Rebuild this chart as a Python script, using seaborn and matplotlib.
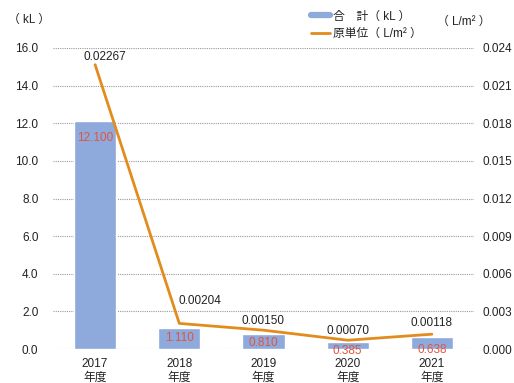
import numpy as np
import pandas as pd
import matplotlib
matplotlib.use("Agg")
import matplotlib.pyplot as plt
import seaborn as sns
from matplotlib.lines import Line2D

sns.set_theme(style="white")
plt.rcParams["font.family"] = ["Liberation Sans", "Noto Sans CJK JP", "DejaVu Sans"]

# Data
years = ["2017", "2018", "2019", "2020", "2021"]
total_kl = [12.100, 1.110, 0.810, 0.385, 0.638]
unit_l_m2 = [0.02267, 0.00204, 0.00150, 0.00070, 0.00118]
left_ticks = [0, 2, 4, 6, 8, 10, 12, 14, 16]
right_ticks = [0.000, 0.003, 0.006, 0.009, 0.012, 0.015, 0.018, 0.021, 0.024]

bar_color = "#8EA9DB"
line_color = "#E38C1E"
bar_label_color = "#E0553F"
text_color = "#222222"

df = pd.DataFrame({
    "year": [f"{y}\n年度" for y in years],
    "pos": np.arange(len(years)),
    "total": total_kl,
    "unit": unit_l_m2,
})

fig = plt.figure(figsize=(5.14, 3.83), dpi=100)
ax = fig.add_axes([53 / 514, 1 - 349 / 383, 421 / 514, 301 / 383])

sns.barplot(data=df, x="year", y="total", color=bar_color, width=0.5,
            saturation=1, ax=ax, zorder=2)
ax.set_xlim(-0.5, len(years) - 0.5)
ax.set_ylim(0, 16)
ax.set_yticks(left_ticks)
ax.set_yticklabels([f"{v:.1f}" for v in left_ticks], fontsize=8.5, color=text_color)
ax.tick_params(axis="x", labelsize=8.5, colors=text_color, length=0, pad=6.5)
for t in ax.get_xticklabels():
    t.set_linespacing(1.2)
ax.tick_params(axis="y", length=0, pad=10.5)
ax.set_xlabel("")
ax.set_ylabel("")
ax.yaxis.grid(True, linestyle=(0, (1, 1)), color="#9a9a9a", linewidth=0.8, zorder=0)
ax.set_axisbelow(True)
for s in ax.spines.values():
    s.set_visible(False)

# Bar value labels inside the bar tops
bar_label_offsets = [-8, -3, -2.5, -2.5, -5]
for p, v, off in zip(ax.patches, total_kl, bar_label_offsets):
    ax.annotate(f"{v:.3f}", (p.get_x() + p.get_width() / 2, v),
                xytext=(0, off), textcoords="offset points",
                ha="center", va="top", fontsize=8.5, color=bar_label_color, zorder=5)

# Intensity line on secondary axis
ax2 = ax.twinx()
sns.lineplot(data=df, x="pos", y="unit", color=line_color, linewidth=2, ax=ax2,
             zorder=3)
ax2.set_ylim(0, 0.024)
ax2.set_yticks(right_ticks)
ax2.set_yticklabels([f"{v:.3f}" for v in right_ticks], fontsize=8.5, color=text_color)
ax2.tick_params(axis="y", length=0, pad=6)
ax2.set_ylabel("")
ax2.set_xlabel("")
ax2.grid(False)
for s in ax2.spines.values():
    s.set_visible(False)

label_offsets = [(7, 1.5), (15, 12), (0, 2.5), (0, 2.5), (0, 4)]
for x, v, off in zip(df["pos"], unit_l_m2, label_offsets):
    ax2.annotate(f"{v:.5f}", (x, v), xytext=off, textcoords="offset points",
                 ha="center", va="bottom", fontsize=8.5, color=text_color)

# Axis unit captions
fig.text(8 / 514, 1 - 20 / 383, "（ kL ）", fontsize=8.5, color=text_color,
         ha="left", va="center")
fig.text(437 / 514, 1 - 22 / 383, "（ L/m² ）", fontsize=8.5, color=text_color,
         ha="left", va="center")

handles = [Line2D([0], [0], color=bar_color, linewidth=4.5),
           Line2D([0], [0], color=line_color, linewidth=2)]
fig.legend(handles, ["合　計（ kL ）", "原単位（ L/m² ）"], loc="upper left",
           bbox_to_anchor=(300 / 514, 1 - 0 / 383), frameon=False, fontsize=8.5,
           handlelength=1.6, handletextpad=0.3, labelspacing=0.45,
           labelcolor=text_color)

fig.savefig("out.png", dpi=100)
